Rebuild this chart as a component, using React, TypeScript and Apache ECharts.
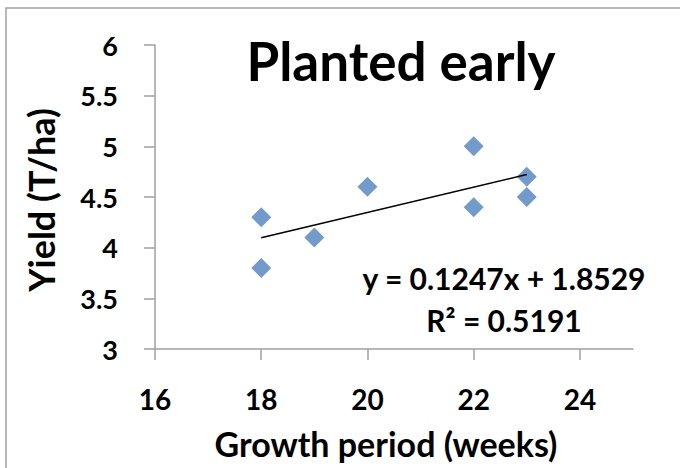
import React, { useEffect, useRef } from "react";
import * as echarts from "echarts";

const titleText = "Planted early";
const xAxisTitle = "Growth period (weeks)";
const yAxisTitle = "Yield (T/ha)";
const growthWeeks = [18, 18, 19, 20, 22, 22, 23, 23];
const yieldTha = [4.3, 3.8, 4.1, 4.6, 5.0, 4.4, 4.7, 4.5];
const xTickValues = [16, 18, 20, 22, 24];
const equationText = "y = 0.1247x + 1.8529";
const r2Text = "R\u00B2 = 0.5191";

function regression(xs: number[], ys: number[]) {
  const n = xs.length;
  const mx = xs.reduce((a, b) => a + b, 0) / n;
  const my = ys.reduce((a, b) => a + b, 0) / n;
  let sxy = 0;
  let sxx = 0;
  for (let i = 0; i < n; i++) {
    sxy += (xs[i] - mx) * (ys[i] - my);
    sxx += (xs[i] - mx) * (xs[i] - mx);
  }
  const slope = sxy / sxx;
  return { slope, intercept: my - slope * mx };
}

const FONT = "Lato";

export default function App() {
  const ref = useRef<HTMLDivElement>(null);
  useEffect(() => {
    if (!ref.current) return;
    const chart = echarts.init(ref.current, undefined, { renderer: "svg" });
    const { slope, intercept } = regression(growthWeeks, yieldTha);
    const xmin = Math.min(...growthWeeks);
    const xmax = Math.max(...growthWeeks);
    const trend = [
      [xmin, slope * xmin + intercept],
      [xmax, slope * xmax + intercept],
    ];
    const points = growthWeeks.map((x, i) => [x, yieldTha[i]]);
    chart.setOption({
      animation: false,
      backgroundColor: "#ffffff",
      grid: { left: 155, top: 45, width: 478, height: 304, containLabel: false },
      xAxis: {
        type: "value",
        min: 16,
        max: 25,
        interval: 2,
        splitLine: { show: false },
        axisLine: { show: true, onZero: false, lineStyle: { color: "#a0a0a0", width: 1.5 } },
        axisTick: { show: true, length: 11, customValues: xTickValues, lineStyle: { color: "#a0a0a0", width: 1.5 } },
        axisLabel: {
          customValues: xTickValues,
          margin: 36,
          fontFamily: FONT,
          fontWeight: "bold",
          fontSize: 28,
          color: "#000",
        },
      },
      yAxis: {
        type: "value",
        min: 3,
        max: 6,
        interval: 0.5,
        splitLine: { show: false },
        axisLine: { show: true, onZero: false, lineStyle: { color: "#a0a0a0", width: 1.5 } },
        axisTick: { show: true, length: 11, lineStyle: { color: "#a0a0a0", width: 1.5 } },
        axisLabel: {
          margin: 37,
          fontFamily: FONT,
          fontWeight: "bold",
          fontSize: 27,
          color: "#000",
        },
      },
      graphic: [
        {
          type: "rect",
          shape: { x: 6, y: 8, width: 700, height: 500 },
          style: { fill: "none", stroke: "#a0a0a0", lineWidth: 1.5 },
          z: -10,
          silent: true,
        },
        {
          type: "text",
          x: 401,
          y: 60,
          style: {
            text: titleText,
            font: `bold 53px ${FONT}`,
            fill: "#000",
            textAlign: "center",
            textVerticalAlign: "middle",
          },
        },
        {
          type: "text",
          x: 386,
          y: 443,
          style: {
            text: xAxisTitle,
            font: `bold 34px ${FONT}`,
            fill: "#000",
            textAlign: "center",
            textVerticalAlign: "middle",
          },
        },
        {
          type: "text",
          x: 41,
          y: 200,
          rotation: Math.PI / 2,
          style: {
            text: yAxisTitle,
            font: `bold 36px ${FONT}`,
            fill: "#000",
            textAlign: "center",
            textVerticalAlign: "middle",
          },
        },
        {
          type: "text",
          x: 504,
          y: 278,
          style: {
            text: equationText,
            font: `bold 30px ${FONT}`,
            fill: "#000",
            textAlign: "center",
            textVerticalAlign: "middle",
          },
        },
        {
          type: "text",
          x: 504,
          y: 320,
          style: {
            text: r2Text,
            font: `bold 30px ${FONT}`,
            fill: "#000",
            textAlign: "center",
            textVerticalAlign: "middle",
          },
        },
      ],
      series: [
        {
          type: "scatter",
          data: points,
          symbol: "diamond",
          symbolSize: [20, 20],
          itemStyle: { color: "#4f81bd" },
          z: 2,
        },
        {
          type: "line",
          data: trend,
          symbol: "none",
          lineStyle: { color: "#000", width: 1.5 },
          z: 3,
        },
      ],
    });
    return () => chart.dispose();
  }, []);
  return (
    <div
      ref={ref}
      style={{ position: "fixed", left: 0, top: 0, width: 680, height: 468 }}
    />
  );
}
